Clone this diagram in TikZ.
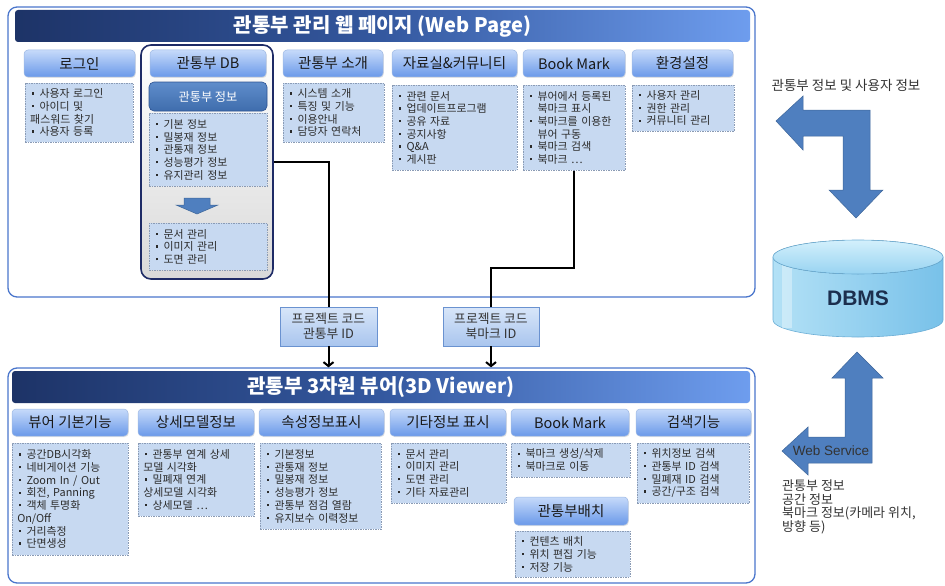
\documentclass[tikz,border=0pt]{standalone}
\usepackage{fontspec}
\setmainfont{Noto Sans CJK KR}
\newfontfamily\arialf{Liberation Sans}
\usetikzlibrary{arrows.meta,shadows}
\definecolor{panelB}{HTML}{4A76CC}
\definecolor{barL}{HTML}{1D3367}
\definecolor{barM}{HTML}{34589F}
\definecolor{barR}{HTML}{6E9DEE}
\definecolor{hdrT}{HTML}{C6DAFA}
\definecolor{hdrB}{HTML}{6A99E9}
\definecolor{hdrD}{HTML}{9EB9E4}
\definecolor{cFill}{HTML}{C7D9F1}
\definecolor{cDraw}{HTML}{8A9BB5}
\definecolor{cText}{HTML}{2B2B2B}
\definecolor{dbgD}{HTML}{1E2B66}
\definecolor{dbgB}{HTML}{D9D9D9}
\definecolor{infT}{HTML}{5F8DCB}
\definecolor{infB}{HTML}{3F6DAD}
\definecolor{infD}{HTML}{2D5291}
\definecolor{lblT}{HTML}{D8E6F9}
\definecolor{lblB}{HTML}{A9C5EE}
\definecolor{lblD}{HTML}{6A92D0}
\definecolor{arrF}{HTML}{4F7FBF}
\definecolor{arrD}{HTML}{3E6699}
\definecolor{cyL}{HTML}{B3E1F6}
\definecolor{cyR}{HTML}{78C1E9}
\definecolor{cyD}{HTML}{6BAED6}
\definecolor{cyTopT}{HTML}{D3F0FC}
\definecolor{cyTopB}{HTML}{98D3F1}
\definecolor{dbmsT}{HTML}{1C2F4E}
\definecolor{sideT}{HTML}{333333}
\newcommand{\bdot}{\hspace{0.15em}\rule[0.3em]{0.2em}{0.2em}\hspace{0.5em}}
\newcommand{\indnt}{\hspace*{0.85em}}
\newcommand{\ctext}{\fontsize{10.9}{12.7}\selectfont}
\begin{document}
\begin{tikzpicture}[x=1pt,y=-1pt,
  panel/.style={draw=panelB, line width=1.3pt, rounded corners=9pt, fill=white},
  bar/.style={rounded corners=3pt, left color=barL, right color=barR, middle color=barM, text=white, font=\fontsize{20}{22}\selectfont\bfseries},
  hdr/.style={rounded corners=4pt, top color=hdrT, bottom color=hdrB, draw=hdrD, line width=0.5pt, text=black!90, font=\fontsize{14.5}{16}\selectfont, drop shadow={opacity=0.2,shadow xshift=0.8pt,shadow yshift=-1pt}},
  cbox/.style n args={3}{anchor=north west, fill=cFill, draw=cDraw, dash pattern=on 1.5pt off 1pt, line width=0.5pt, inner xsep=5pt, inner ysep=2pt, minimum width=#1, minimum height=#2, text width=#3, align=left, font=\ctext, text=cText},
  dbgroup/.style={draw=dbgD, line width=1.6pt, rounded corners=10pt, top color=white, bottom color=dbgB},
  infobox/.style={rounded corners=5pt, top color=infT, bottom color=infB, draw=infD, line width=0.6pt, text=white, font=\fontsize{12.2}{14}\selectfont},
  lbl/.style={top color=lblT, bottom color=lblB, draw=lblD, line width=0.6pt, align=center, text=sideT, font=\fontsize{12.8}{15}\selectfont},
  conn/.style={line width=2pt, black},
  arr/.style={line width=2pt, black, -{Straight Barb[length=4pt,width=10pt]}},
  bigarrow/.style={fill=arrF, draw=arrD, line width=0.5pt}
]
\useasboundingbox (0,0) rectangle (945,586);

% ===== top panel =====
\node[panel, minimum width=747, minimum height=290] (tp) at (381.5,152) {};
\node[bar, minimum width=735, minimum height=32] (tb) at (382.5,26) {관통부 관리 웹 페이지 (Web Page)};

\node[dbgroup, minimum width=132, minimum height=234] (dbg) at (207,162) {};

\node[hdr, minimum width=111, minimum height=27] (h1) at (79.5,63.5) {로그인};
\node[hdr, minimum width=116, minimum height=27] (h2) at (208,63.5) {관통부 DB};
\node[hdr, minimum width=100, minimum height=27] (h3) at (333,63.5) {관통부 소개};
\node[hdr, minimum width=125, minimum height=27] (h4) at (454.5,63.5) {자료실\&커뮤니티};
\node[hdr, minimum width=102, minimum height=27] (h5) at (574,63.5) {Book Mark};
\node[hdr, minimum width=101, minimum height=27] (h6) at (682.5,63.5) {환경설정};

\node[cbox={108}{59}{98}] (c1) at (25,83) {\bdot 사용자 로그인\\ \bdot 아이디 및\\ 패스워드 찾기\\ \bdot 사용자 등록};
\node[infobox, minimum width=118, minimum height=29] (dbinfo) at (208,96.5) {관통부 정보};
\node[cbox={118}{73}{108}] (dbc1) at (149,113) {\bdot 기본 정보\\ \bdot 밀봉재 정보\\ \bdot 관통재 정보\\ \bdot 성능평가 정보\\ \bdot 유지관리 정보};
\fill[bigarrow] (184,198) -- (210,198) -- (210,205) -- (218,205) -- (197,214) -- (176,205) -- (184,205) -- cycle;
\node[cbox={118}{47}{108}] (dbc2) at (149,223) {\bdot 문서 관리\\ \bdot 이미지 관리\\ \bdot 도면 관리};
\node[cbox={101}{59}{91}] (c3) at (283,83) {\bdot 시스템 소개\\ \bdot 특징 및 기능\\ \bdot 이용안내\\ \bdot 담당자 연락처};
\node[cbox={125}{85}{115}] (c4) at (392,85) {\bdot 관련 문서\\ \bdot 업데이트프로그램\\ \bdot 공유 자료\\ \bdot 공지사항\\ \bdot Q\&A\\ \bdot 게시판};
\node[cbox={102}{85}{92}] (bmc) at (523,85) {\bdot 뷰어에서 등록된\\ \indnt 북마크 표시\\ \bdot 북마크를 이용한\\ \indnt 뷰어 구동\\ \bdot 북마크 검색\\ \bdot 북마크 …};
\node[cbox={102}{46}{92}] (c6) at (632,85) {\bdot 사용자 관리\\ \bdot 권한 관리\\ \bdot 커뮤니티 관리};

% ===== bottom panel =====
\node[panel, minimum width=747, minimum height=215] (bp) at (381.5,475.5) {};
\node[bar, minimum width=738, minimum height=32] (bb) at (381,387) {관통부 3차원 뷰어(3D Viewer)};

\node[hdr, minimum width=116, minimum height=27] (g1) at (70,422.5) {뷰어 기본기능};
\node[hdr, minimum width=116, minimum height=27] (g2) at (196,422.5) {상세모델정보};
\node[hdr, minimum width=125, minimum height=27] (g3) at (321.5,422.5) {속성정보표시};
\node[hdr, minimum width=116, minimum height=27] (g4) at (448,422.5) {기타정보 표시};
\node[hdr, minimum width=118, minimum height=27] (g5) at (570,422.5) {Book Mark};
\node[hdr, minimum width=115, minimum height=27] (g6) at (693.5,422.5) {검색기능};
\node[hdr, minimum width=114, minimum height=28] (g7) at (571,511) {관통부배치};

\node[cbox={116}{112}{106}] (d1) at (12,443) {\bdot 공간DB시각화\\ \bdot 네비게이션 기능\\ \bdot Zoom In / Out\\ \bdot 회전, Panning\\ \bdot 객체 투명화\\ On/Off\\ \bdot 거리측정\\ \bdot 단면생성};
\node[cbox={116}{73}{106}] (d2) at (138,443) {\bdot 관통부 연계 상세\\ 모델 시각화\\ \bdot 밀폐재 연계\\ 상세모델 시각화\\ \bdot 상세모델 …};
\node[cbox={121}{86}{111}] (d3) at (260,443) {\bdot 기본정보\\ \bdot 관통재 정보\\ \bdot 밀봉재 정보\\ \bdot 성능평가 정보\\ \bdot 관통부 점검 열람\\ \bdot 유지보수 이력정보};
\node[cbox={115}{60}{105}] (d4) at (391,443) {\bdot 문서 관리\\ \bdot 이미지 관리\\ \bdot 도면 관리\\ \bdot 기타 자료관리};
\node[cbox={119}{34}{109}] (d5) at (511,443) {\bdot 북마크 생성/삭제\\ \bdot 북마크로 이동};
\node[cbox={112}{60}{102}] (d6) at (637,443) {\bdot 위치정보 검색\\ \bdot 관통부 ID 검색\\ \bdot 밀폐재 ID 검색\\ \bdot 공간/구조 검색};
\node[cbox={115}{46}{105}] (d7) at (515,531) {\bdot 컨텐츠 배치\\ \bdot 위치 편집 기능\\ \bdot 저장 기능};

% ===== labels and connectors =====
\node[lbl, minimum width=97, minimum height=39] (lb1) at (328.5,326.5) {프로젝트 코드\\관통부 ID};
\node[lbl, minimum width=96, minimum height=39] (lb2) at (491,326.5) {프로젝트 코드\\북마크 ID};
\coordinate (bend2) at (491,268);
\draw[conn] (dbg.east) -| (lb1.north);
\draw[conn] (bmc.south) |- (bend2) -- (lb2.north);
\draw[arr] (lb1.south) -- (lb1.south |- bp.north);
\draw[arr] (lb2.south) -- (lb2.south |- bp.north);

% ===== right side =====
\node[font=\fontsize{13.5}{15}\selectfont, text=sideT] (t1) at (846,85) {관통부 정보 및 사용자 정보};
\filldraw[bigarrow] (776,121) -- (803,96) -- (803,110) -- (870,110) -- (870,190) -- (883,190) -- (856,218) -- (829,190) -- (843,190) -- (843,136) -- (803,136) -- (803,150) -- cycle;

% DBMS cylinder
\path[left color=cyL, right color=cyR, draw=cyD, line width=0.6pt] (773,257) -- (773,320) arc[start angle=180, end angle=0, x radius=85, y radius=17] -- (943,257) -- cycle;
\fill[white, opacity=0.35] (782,262) rectangle (792,328);
\filldraw[top color=cyTopT, bottom color=cyTopB, draw=cyD, line width=0.6pt] (858,257) ellipse [x radius=85, y radius=17];
\node[font=\arialf\bfseries\fontsize{21}{24}\selectfont, text=dbmsT] (dbms) at (858,298) {DBMS};

\filldraw[bigarrow] (857,352) -- (883,378) -- (872,378) -- (872,463) -- (808,463) -- (808,475) -- (782,451) -- (808,427) -- (808,437) -- (845,437) -- (845,378) -- (832,378) -- cycle;
\node[font=\arialf\fontsize{13.5}{15}\selectfont, text=sideT] (ws) at (831,451) {Web Service};
\node[anchor=north west, align=left, inner sep=0pt, font=\fontsize{13}{13.3}\selectfont, text=sideT] (t2) at (782,480) {관통부 정보\\공간 정보\\북마크 정보(카메라 위치,\\방향 등)};
\end{tikzpicture}
\end{document}
